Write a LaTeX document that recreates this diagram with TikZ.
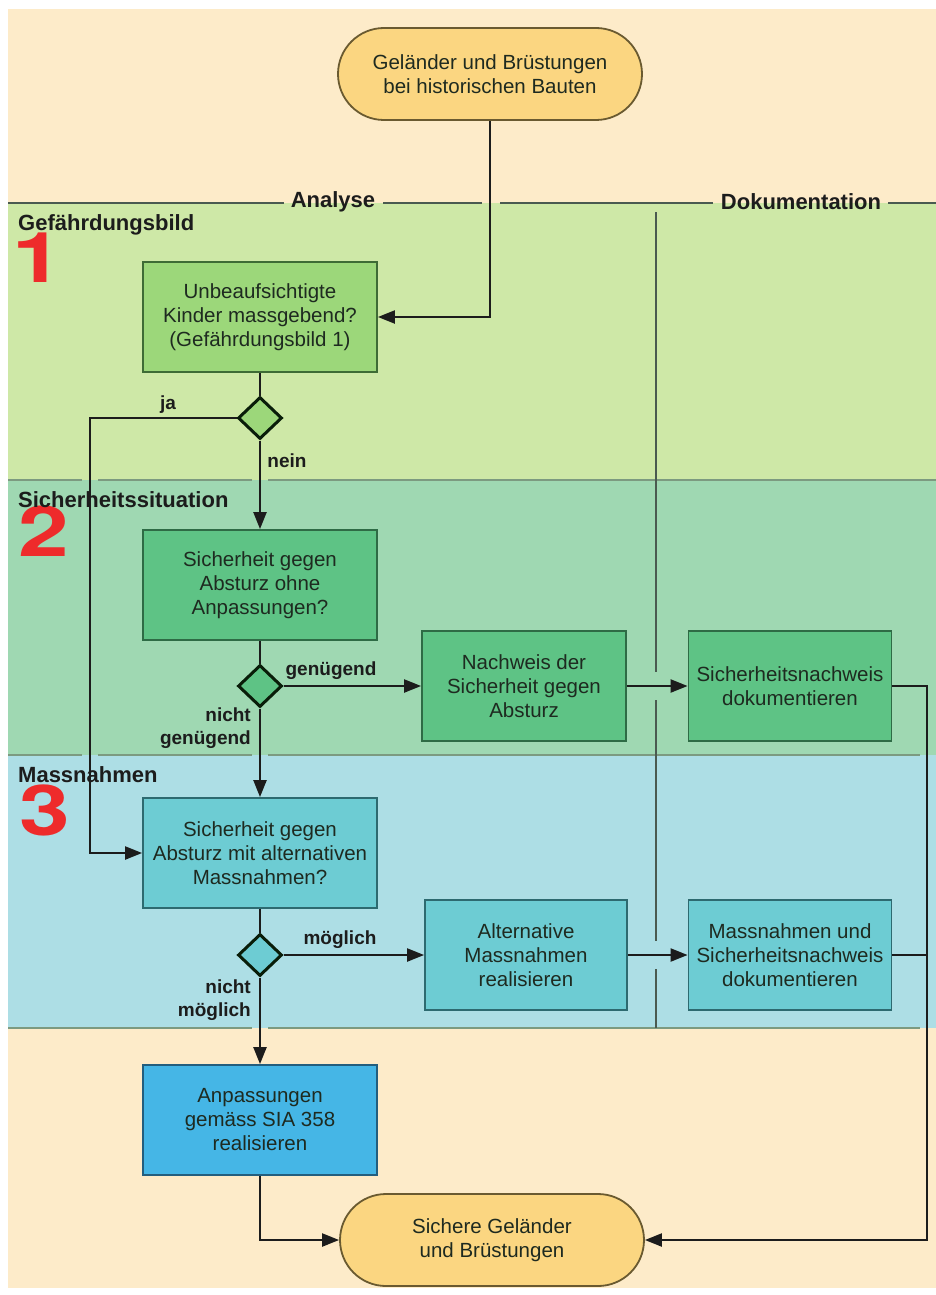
\documentclass[tikz,border=0pt]{standalone}
\usepackage{fontspec}
\setmainfont{Liberation Sans}
\newfontfamily\numfont{TeX Gyre Heros}
\usetikzlibrary{arrows.meta,shapes.geometric}
\definecolor{peach}{HTML}{FDEBC9}
\definecolor{bandA}{HTML}{CEE8A7}
\definecolor{bandB}{HTML}{9FD8B2}
\definecolor{bandC}{HTML}{ADDEE5}
\definecolor{termfill}{HTML}{FBD681}
\definecolor{termdraw}{HTML}{6A5A30}
\definecolor{fillA}{HTML}{9CD77A}
\definecolor{drawA}{HTML}{3E6B35}
\definecolor{fillB}{HTML}{5EC385}
\definecolor{drawB}{HTML}{2E6B45}
\definecolor{fillC}{HTML}{6DCCD3}
\definecolor{drawC}{HTML}{2D6A70}
\definecolor{fillD}{HTML}{45B6E6}
\definecolor{drawD}{HTML}{235E7E}
\definecolor{numred}{HTML}{EE2B2B}
\definecolor{laneline}{HTML}{7C9A80}
\definecolor{divline}{HTML}{4A5A50}
\definecolor{connc}{HTML}{1C1C1C}
\definecolor{txtdark}{HTML}{1E2A20}
\tikzset{
  proc/.style={rectangle, draw, line width=1.8pt, minimum width=234pt, minimum height=110pt,
    align=center, inner sep=0pt, text=txtdark, font=\fontsize{20.5}{24}\selectfont},
  procA/.style={proc, fill=fillA, draw=drawA},
  procB/.style={proc, fill=fillB, draw=drawB},
  procC/.style={proc, fill=fillC, draw=drawC},
  procD/.style={proc, fill=fillD, draw=drawD},
  term/.style={rectangle, rounded corners=46pt, draw=termdraw, fill=termfill, line width=1.8pt,
    minimum width=304pt, minimum height=92pt, align=center, inner sep=0pt, text=txtdark,
    font=\fontsize{20.5}{24}\selectfont},
  dec/.style={diamond, aspect=1, draw=connc!80!green!40!black, line width=3pt,
    minimum width=44pt, minimum height=42pt, inner sep=0pt},
  conn/.style={draw=connc, line width=2.2pt},
  arr/.style={conn, -{Triangle[length=17pt,width=13pt]}},
  elabel/.style={font=\fontsize{19}{23}\bfseries\selectfont, text=connc, inner sep=0pt},
  lanelabel/.style={font=\fontsize{22}{26}\bfseries\selectfont, text=connc, inner sep=0pt},
  numeral/.style={font=\numfont\fontsize{70}{70}\bfseries\selectfont, text=numred, inner sep=0pt, xscale=1.3},
  laneln/.style={draw=laneline, line width=1.6pt},
  divln/.style={draw=divline, line width=1.6pt}
}
\begin{document}
\begin{tikzpicture}[x=1pt,y=-1pt]
\useasboundingbox (0,0) rectangle (936,1295);
\fill[white] (0,0) rectangle (936,1295);
\fill[peach] (8,9) rectangle (936,1288);
\fill[bandA] (8,203) rectangle (936,480);
\fill[bandB] (8,480) rectangle (936,755);
\fill[bandC] (8,755) rectangle (936,1028);
% lane lines
\draw[divln] (8,203) -- (284,203) (383,203) -- (482,203) (500,203) -- (713,203) (888,203) -- (936,203);
\draw[laneln] (8,480) -- (82,480) (98,480) -- (252,480) (268,480) -- (936,480);
\draw[laneln] (8,755) -- (82,755) (98,755) -- (252,755) (268,755) -- (920,755);
\draw[laneln] (8,1028) -- (252,1028) (268,1028) -- (920,1028);
\draw[divln] (656,212) -- (656,672) (656,700) -- (656,941) (656,969) -- (656,1028);
\node[lanelabel] (hA) at (333,202) {Analyse};
\node[lanelabel] (hD) at (801,202) {Dokumentation};
% numerals and lane titles
\node[numeral] (n1) at (38,258) {1};
\node[numeral] (n2) at (44,531) {2};
\node[numeral] (n3) at (45,810) {3};
\node[lanelabel, anchor=west] (l1) at (18,225) {Gefährdungsbild};
\node[lanelabel, anchor=west] (l2) at (18,500) {Sicherheitssituation};
\node[lanelabel, anchor=west] (l3) at (18,775) {Massnahmen};
% nodes
\node[term] (start) at (490,74) {Geländer und Brüstungen\\bei historischen Bauten};
\node[procA] (q1) at (260,317) {Unbeaufsichtigte\\Kinder massgebend?\\(Gefährdungsbild 1)};
\node[dec, fill=fillA] (d1) at (260,418) {};
\node[procB] (q2) at (260,585) {Sicherheit gegen\\Absturz ohne\\Anpassungen?};
\node[dec, fill=fillB] (d2) at (260,686) {};
\node[procB, minimum width=204pt] (nw) at (524,686) {Nachweis der\\Sicherheit gegen\\Absturz};
\node[procB, minimum width=203pt] (doc1) at (790,686) {Sicherheitsnachweis\\dokumentieren};
\node[procC] (q3) at (260,853) {Sicherheit gegen\\Absturz mit alternativen\\Massnahmen?};
\node[dec, fill=fillC] (d3) at (260,955) {};
\node[procC, minimum width=202pt] (alt) at (526,955) {Alternative\\Massnahmen\\realisieren};
\node[procC, minimum width=203pt] (doc2) at (790,955) {Massnahmen und\\Sicherheitsnachweis\\dokumentieren};
\node[procD] (sia) at (260,1120) {Anpassungen\\gemäss SIA 358\\realisieren};
\node[term] (end) at (492,1240) {Sichere Geländer\\und Brüstungen};
% connectors
\coordinate (ja) at (90,853);
\coordinate (rr) at (927,1240);
\draw[arr] (start.south) |- (q1.east);
\draw[conn] (q1.south) -- (d1.north);
\draw[arr] (d1.west) -| (ja) -- (q3.west);
\draw[arr] (d1.south) -- (q2.north);
\draw[conn] (q2.south) -- (d2.north);
\draw[arr] (d2.east) -- (nw.west);
\draw[arr] (d2.south) -- (q3.north);
\draw[arr] (nw.east) -- (doc1.west);
\draw[arr] (doc1.east) -| (rr) -- (end.east);
\draw[conn] (doc2.east) -- (doc2.east -| rr);
\draw[conn] (q3.south) -- (d3.north);
\draw[arr] (d3.east) -- (alt.west);
\draw[arr] (d3.south) -- (sia.north);
\draw[arr] (alt.east) -- (doc2.west);
\draw[arr] (sia.south) |- (end.west);
% edge labels
\node[elabel] (lja) at (168,405) {ja};
\node[elabel] (lnein) at (287,461) {nein};
\node[elabel] (lgen) at (331,671) {genügend};
\node[elabel, anchor=east, align=right] (lngen) at (251,728) {nicht\\genügend};
\node[elabel] (lmog) at (340,940) {möglich};
\node[elabel, anchor=east, align=right] (lnmog) at (251,1000) {nicht\\möglich};
\end{tikzpicture}
\end{document}
